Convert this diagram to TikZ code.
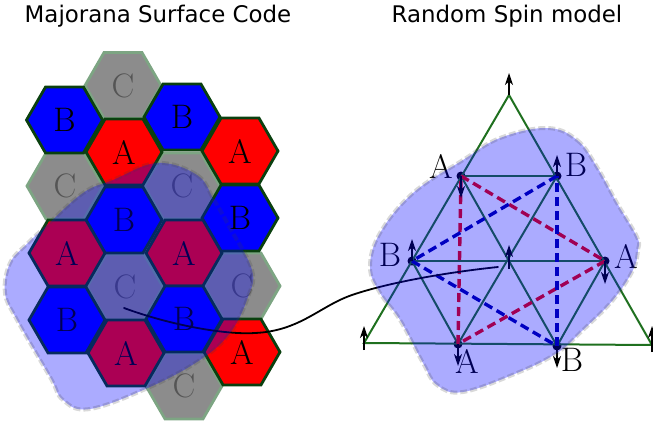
\documentclass[tikz,border=0pt]{standalone}
\usepackage{fontspec}
\newfontfamily\titlefont{DejaVu Sans}
\usetikzlibrary{shapes.geometric,arrows.meta}
\definecolor{hexedge}{HTML}{0A400F}
\definecolor{cedge}{HTML}{7DA583}
\definecolor{cfill}{HTML}{8C8C8C}
\definecolor{ctext}{HTML}{555555}
\definecolor{trigreen}{HTML}{1F701F}
\definecolor{dashred}{HTML}{F00000}
\definecolor{dashblue}{HTML}{0000A4}
\definecolor{blobedge}{HTML}{404040}
\tikzset{
  hexbase/.style={regular polygon,regular polygon sides=6,minimum size=76pt,inner sep=0pt,outer sep=0pt,line width=2.8pt,font=\fontsize{34}{34}\selectfont},
  hexa/.style={hexbase,draw=hexedge,fill=red,text=black},
  hexb/.style={hexbase,draw=hexedge,fill=blue,text=black},
  hexc/.style={hexbase,draw=cedge,fill=cfill,text=ctext},
  title/.style={font=\titlefont\fontsize{22.9}{26}\selectfont,inner sep=0pt,anchor=base},
  site/.style={circle,fill=black,inner sep=0pt,minimum size=9pt},
  spot/.style={inner sep=0pt,minimum size=0pt},
  lbl/.style={font=\fontsize{34}{34}\selectfont,inner sep=0pt},
  bond/.style={draw=trigreen,line width=2pt},
  dred/.style={draw=dashred,line width=3.4pt,dash pattern=on 9pt off 5pt},
  dblue/.style={draw=dashblue,line width=3.4pt,dash pattern=on 9pt off 5pt},
  spin/.style={draw=black,line width=1.5pt,-{Stealth[length=12pt,width=8pt,inset=3.5pt]}},
  blob/.style={fill=blue,fill opacity=.33,draw=blobedge,draw opacity=.2,line width=4pt,dash pattern=on 7pt off 3pt},
}
\begin{document}
\begin{tikzpicture}[x=1pt,y=-1pt]
\useasboundingbox (0,0) rectangle (653,428);
\node[title] (t1) at (158,23) {Majorana Surface Code};
\node[title] (t2) at (507,23) {Random Spin model};

% C hexagons first
\node[hexc] (c1) at (123,85.5) {C};
\node[hexc] (c2) at (65,186) {C};
\node[hexc] (c3) at (182,186) {C};
\node[hexc] (c4) at (125,287) {C};
\node[hexc] (c5) at (242,286) {C};
\node[hexc] (c6) at (184,386) {C};
\node[hexb] (b1) at (64.5,120) {B};
\node[hexb] (b2) at (182,117) {B};
\node[hexa] (a1) at (124,152) {A};
\node[hexa] (a2) at (240,151) {A};
\node[hexb] (b3) at (124,220) {B};
\node[hexb] (b4) at (240,218) {B};
\node[hexa] (a3) at (67,253) {A};
\node[hexa] (a4) at (184,253) {A};
\node[hexb] (b5) at (67,320) {B};
\node[hexb] (b6) at (184,319) {B};
\node[hexa] (a5) at (126,353) {A};
\node[hexa] (a6) at (242,352) {A};

% triangle sites
\node[spot] (apex) at (509,95) {};
\node[spot] (bl) at (364,343) {};
\node[spot] (br) at (652,345) {};
\node[spot] (mid) at (509,261) {};
\node[site] (sa1) at (461,176) {};
\node[site] (sb1) at (557,176) {};
\node[site] (sb2) at (412,261) {};
\node[site] (sa2) at (605,261) {};
\node[site] (sa3) at (458,344) {};
\node[site] (sb3) at (557,346) {};

\draw[bond] (apex.center) -- (bl.center) -- (br.center) -- cycle;
\draw[bond] (sa1.center) -- (sb1.center);
\draw[bond] (sb2.center) -- (sa2.center);
\draw[bond] (sa1.center) -- (sb3.center);
\draw[bond] (sb1.center) -- (sa3.center);
\draw[bond] (sb2.center) -- (sa3.center);
\draw[bond] (sa2.center) -- (sb3.center);

\draw[dred] (sa1.center) -- (sa2.center);
\draw[dred] (sa2.center) -- (sa3.center);
\draw[dred] (sa3.center) -- (sa1.center);
\draw[dblue] (sb1.center) -- (sb2.center);
\draw[dblue] (sb2.center) -- (sb3.center);
\draw[dblue] (sb3.center) -- (sb1.center);

% spins
\coordinate (sp1) at (509,73);
\coordinate (sp2) at (364,326);
\coordinate (sp3) at (652,326);
\coordinate (sp4) at (461,198);
\coordinate (sp5) at (557,155);
\coordinate (sp6) at (412,239);
\coordinate (sp7) at (605,284);
\coordinate (sp8) at (509,245);
\coordinate (sp8b) at (509,269);
\coordinate (sp9) at (458,366);
\coordinate (sp10) at (557,368);
\draw[spin] (apex.center) -- (sp1);
\draw[spin] (bl.center) ++(0,7) -- (sp2);
\draw[spin] (br.center) ++(0,7) -- (sp3);
\draw[spin] (sa1.center) -- (sp4);
\draw[spin] (sb1.center) -- (sp5);
\draw[spin] (sb2.center) -- (sp6);
\draw[spin] (sa2.center) -- (sp7);
\draw[spin] (sp8b) -- (sp8);
\draw[spin] (sa3.center) -- (sp9);
\draw[spin] (sb3.center) -- (sp10);

% labels
\node[lbl] (la1) at (441,166) {A};
\node[lbl] (lb1) at (576,165) {B};
\node[lbl] (lb2) at (390,255) {B};
\node[lbl] (la2) at (626,256) {A};
\node[lbl] (la3) at (467,361) {A};
\node[lbl] (lb3) at (572,360) {B};

% link
\coordinate (l0) at (124,308);
\coordinate (l1) at (498,267);
\draw[black,line width=1.8pt,line cap=round] (l0) .. controls (170,325) and (225,335) .. (255,333) .. controls (300,331) and (320,306) .. (352,295) .. controls (390,282) and (450,272) .. (l1);

% overlays
\path[blob] plot[smooth cycle,tension=.65] coordinates {(157,163)(197,175)(214,200)(230,228)(252,270)(248,297)(230,333)(200,360)(150,387)(90,409)(63,400)(50,377)(17,320)(5,293)(10,263)(28,243)(45,227)(83,193)(113,180)};
\path[blob] plot[smooth cycle,tension=.65] coordinates {(547,128)(577,140)(597,167)(617,203)(637,237)(638,250)(633,270)(613,300)(583,330)(557,353)(517,373)(463,392)(437,385)(423,363)(400,320)(380,293)(370,267)(380,233)(413,193)(463,160)(500,138)};
\end{tikzpicture}
\end{document}
